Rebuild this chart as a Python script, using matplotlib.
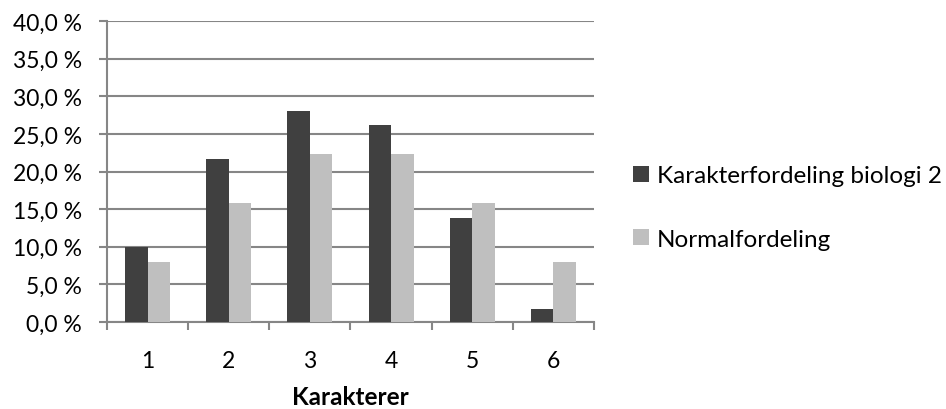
import matplotlib
matplotlib.use("Agg")
import matplotlib.pyplot as plt
import numpy as np
from matplotlib.ticker import FuncFormatter

plt.rcParams['font.family'] = ['Lato', 'DejaVu Sans']

grades = ['1', '2', '3', '4', '5', '6']
biologi2 = [10.0, 21.7, 28.0, 26.2, 13.8, 1.7]
normal = [8.0, 15.8, 22.3, 22.3, 15.8, 8.0]
series_names = ['Karakterfordeling biologi 2', 'Normalfordeling']

grid_col = '#868686'
fs = 16.5
fig = plt.figure(figsize=(9.46, 4.10), dpi=100)
ax = fig.add_axes([0.1131, 0.2122, 0.5148, 0.7341])

x = np.arange(len(grades))
w = 0.278
ax.bar(x - w / 2, biologi2, w, color='#404040', label=series_names[0], zorder=3)
ax.bar(x + w / 2, normal, w, color='#bfbfbf', label=series_names[1], zorder=3)

ax.set_xlim(-0.5, len(grades) - 0.5)
ax.set_ylim(0, 40)
ax.set_yticks(np.arange(0, 41, 5))
ax.yaxis.set_major_formatter(FuncFormatter(lambda v, p: f'{v:.1f} %'.replace('.', ',')))
ax.set_xticks(x)
ax.set_xticklabels(grades)
ax.set_xticks(np.arange(-0.5, len(grades), 1), minor=True)
ax.tick_params(axis='x', which='major', length=0, pad=20, labelsize=fs)
ax.tick_params(axis='x', which='minor', length=6, color=grid_col, width=1.5)
ax.tick_params(axis='y', length=6, color=grid_col, width=1.5, pad=12, labelsize=fs)

ax.grid(axis='y', color=grid_col, linewidth=1.5, zorder=0)
for s in ['top', 'right']:
    ax.spines[s].set_visible(False)
for s in ['left', 'bottom']:
    ax.spines[s].set_color(grid_col)
    ax.spines[s].set_linewidth(1.5)

ax.set_xlabel('Karakterer', fontsize=17.5, fontweight='bold', labelpad=10.5)

fig.legend(loc='center left', bbox_to_anchor=(633 / 946, 1 - 208.5 / 410), frameon=False,
           fontsize=17.5, handlelength=0.66, handleheight=0.66, handletextpad=0.33,
           labelspacing=1.75, borderpad=0, borderaxespad=0)

fig.savefig('out.png', dpi=100)
